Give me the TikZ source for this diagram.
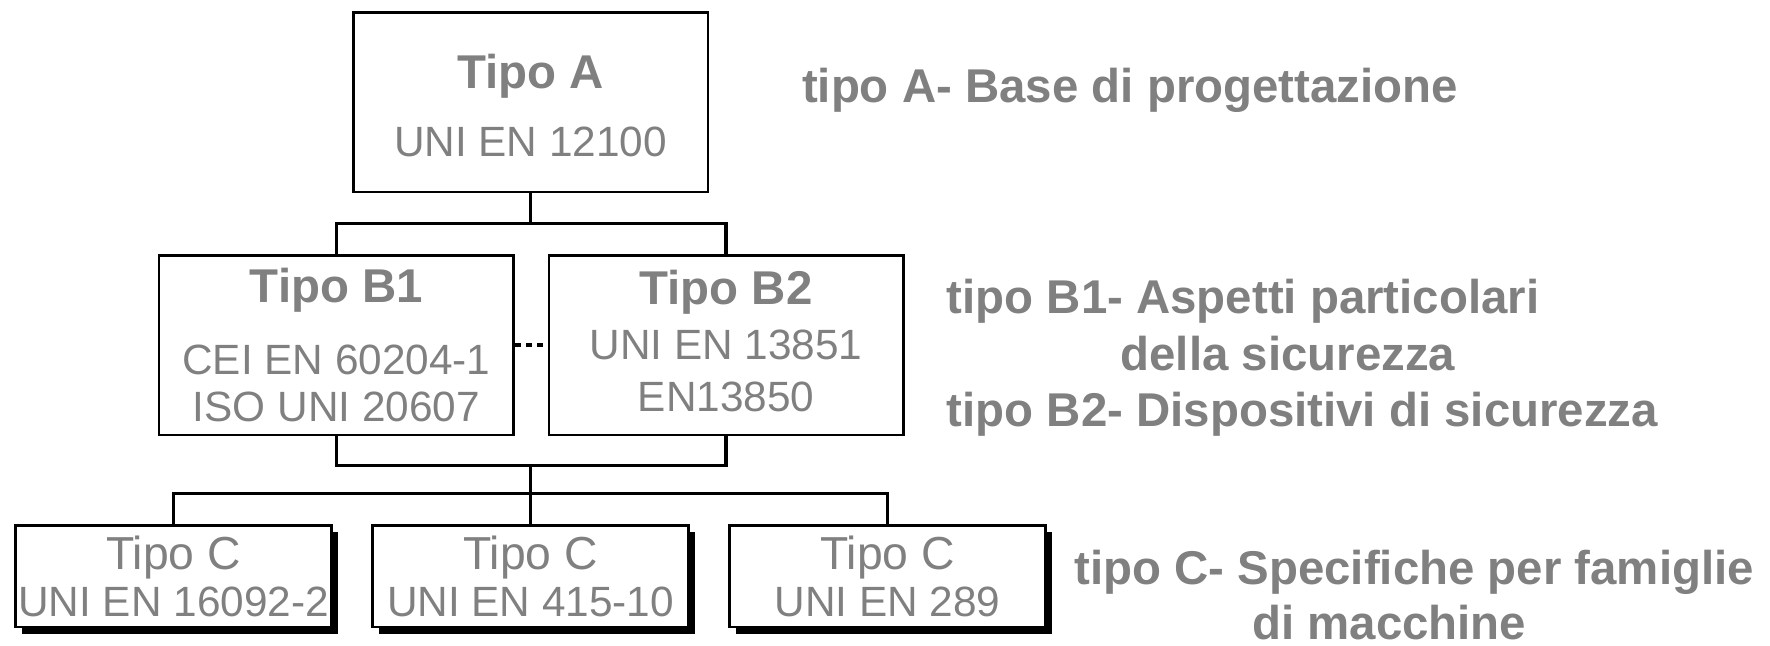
\documentclass[tikz,border=0pt]{standalone}
\usepackage{fontspec}
\setmainfont{Liberation Sans}
\usepackage{xcolor}
\usepackage{tikz}
\usetikzlibrary{positioning,shadows}
\definecolor{textgray}{HTML}{808080}
\newcommand{\titletext}[1]{{\bfseries\fontsize{21}{25}\selectfont #1}}
\newcommand{\ctitle}[1]{{\fontsize{20.5}{21}\selectfont #1}}

\begin{document}
\begin{tikzpicture}[
  node distance=14.5pt,
  bigbox/.style={rectangle, draw=black, fill=white, line width=1.1pt, minimum width=157pt, minimum height=79.5pt,
                 align=center, text=textgray, inner sep=0pt, font=\fontsize{18.75}{21}\selectfont},
  cbox/.style={bigbox, minimum width=140pt, minimum height=45pt,
               drop shadow={shadow xshift=3pt, shadow yshift=-3pt, fill=black, opacity=1}},
  desc/.style={text=textgray, inner sep=0pt, font=\bfseries\fontsize{21}{25}\selectfont},
  link/.style={draw, line width=1.4pt},     % tree connectors
  dotlink/.style={draw, line width=1.5pt, dash pattern=on 2.5pt off 2.5pt}
]
  \useasboundingbox (0,0) rectangle (784pt,-285.7pt);

  \node[bigbox] (A) at (235pt,-45.25pt) {\mbox{}\\[-3pt]\titletext{Tipo A}\\[9pt]UNI EN 12100};
  \node[bigbox] (B1) [below=27pt of A, xshift=-86pt] {\titletext{Tipo B1}\\[11pt]CEI EN 60204-1\\ISO UNI 20607};
  \node[bigbox] (B2) [right=14.5pt of B1] {\titletext{Tipo B2}\\[3.5pt]UNI EN 13851\\[2pt]EN13850\\[-17pt]\mbox{}};

  \draw[link] (A.south) -- ++(0,-13.5pt) coordinate (Abus);
  \draw[link] (B1.north) |- (Abus) -| (B2.north);
  \draw[dotlink] (B1.east) -- (B2.west);
  \draw[link] (B1.south) -- ++(0,-13pt) coordinate (Bl) -| (B2.south);
  \coordinate (Bbot) at (Bl -| A.south);

  \node[cbox] (C2) [below=26pt of Bbot] {\ctitle{Tipo C}\\UNI EN 415-10};
  \node[cbox] (C1) [left=17pt of C2]  {\ctitle{Tipo C}\\UNI EN 16092-2};
  \node[cbox] (C3) [right=17pt of C2] {\ctitle{Tipo C}\\UNI EN 289};

  \path (Bbot) ++(0,-12.5pt) coordinate (Cbus);
  \draw[link] (Bbot) -- (C2.north);
  \draw[link] (C1.north) |- (Cbus) -| (C3.north);

  % descriptions on the right
  \node[desc] (descA) [right=41pt of A, yshift=5.25pt] {tipo A- Base di progettazione};
  \node[desc, align=left] (descB) [right=18.5pt of B2, yshift=-5.75pt]
    {tipo B1- Aspetti particolari\\\hspace*{77pt}della sicurezza\\tipo B2- Dispositivi di sicurezza};
  \node[desc, align=center] (descC) [right=12pt of C3, yshift=-8.5pt]
    {tipo C- Specifiche per famiglie\\[-0.5pt]di macchine\hspace*{22pt}};
\end{tikzpicture}
\end{document}
